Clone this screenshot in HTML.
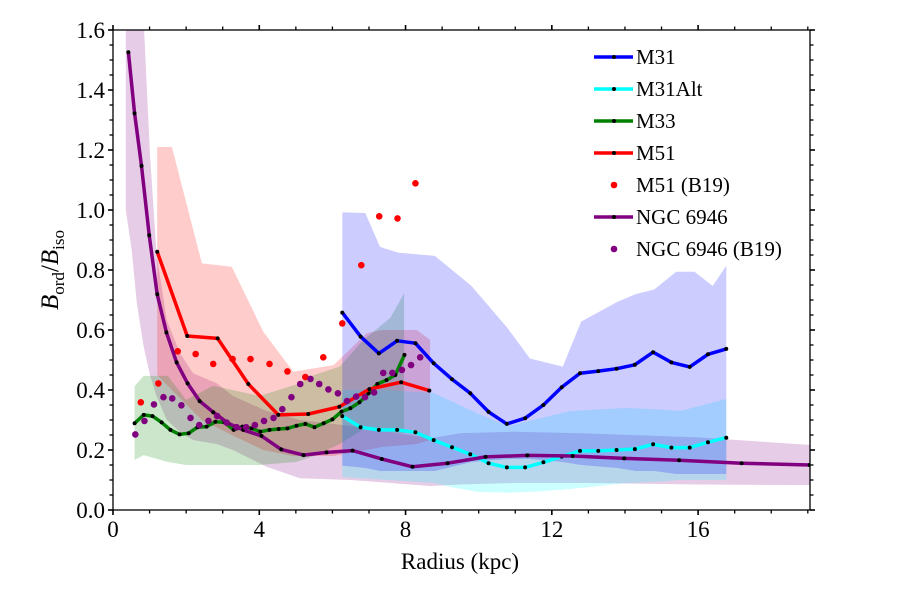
<!DOCTYPE html>
<html><head><meta charset="utf-8"><style>
html,body{margin:0;padding:0;background:#fff;}
svg{display:block;}
text{font-family:"Liberation Serif","DejaVu Serif",serif;}
</style></head><body>
<svg id="chart" width="900" height="600" viewBox="0 0 900 600" font-family="Liberation Serif, serif">
<rect width="900" height="600" fill="#fff"/>
<g id="bands"></g>
<g id="series"></g>
<g id="axes"></g>
<g id="legend"></g>
<text x="460" y="569" font-size="23" text-anchor="middle" font-family="Liberation Serif, serif">Radius (kpc)</text>
<text transform="translate(58,270) rotate(-90)" font-size="25" text-anchor="middle" font-family="Liberation Serif, serif"><tspan font-style="italic">B</tspan><tspan font-size="17" dy="6">ord</tspan><tspan dy="-6">/</tspan><tspan font-style="italic">B</tspan><tspan font-size="17" dy="6">iso</tspan></text>
</svg>
<script>
// ---- data ----
const m31X = [6.27,6.77,7.27,7.77,8.27,8.77,9.27,9.77,10.27,10.77,11.27,11.77,12.27,12.77,13.27,13.77,14.27,14.77,15.27,15.77,16.27,16.77];
const m31Y = [0.658,0.578,0.522,0.564,0.556,0.489,0.436,0.389,0.327,0.287,0.306,0.350,0.409,0.456,0.463,0.471,0.484,0.526,0.492,0.477,0.519,0.537];
const m31AltY = [0.313,0.276,0.267,0.267,0.259,0.233,0.209,0.186,0.156,0.142,0.142,0.159,0.178,0.197,0.197,0.200,0.203,0.219,0.208,0.208,0.226,0.241];
const m33X = [0.59,0.84,1.08,1.33,1.57,1.82,2.07,2.31,2.56,2.80,3.05,3.30,3.54,3.79,4.03,4.28,4.53,4.77,5.02,5.26,5.51,5.76,6.00,6.25,6.49,6.74,6.99,7.23,7.48,7.72,7.97];
const m33Y = [0.289,0.317,0.313,0.292,0.267,0.252,0.256,0.276,0.278,0.294,0.292,0.267,0.278,0.272,0.261,0.267,0.270,0.272,0.281,0.287,0.276,0.289,0.302,0.328,0.339,0.359,0.389,0.420,0.433,0.450,0.517];
const m51X = [1.21,2.03,2.86,3.70,4.52,5.34,6.19,7.01,7.88,8.65];
const m51Y = [0.861,0.580,0.572,0.420,0.317,0.320,0.344,0.403,0.426,0.398];
const m51bX = [0.76,1.24,1.77,2.26,2.74,3.27,3.76,4.28,4.77,5.26,5.75,6.27,6.79,7.28,7.78,8.27];
const m51bY = [0.359,0.422,0.529,0.520,0.487,0.503,0.503,0.487,0.462,0.443,0.509,0.622,0.816,0.979,0.972,1.089];
const ngcX = [0.42,0.59,0.78,0.99,1.21,1.46,1.74,2.04,2.37,2.74,3.15,3.56,4.06,4.60,5.21,5.84,6.55,7.35,8.19,9.15,10.19,11.33,12.57,13.98,15.48,17.19,19.05];
const ngcY = [1.526,1.322,1.147,0.916,0.719,0.592,0.492,0.422,0.363,0.326,0.289,0.267,0.247,0.202,0.183,0.192,0.198,0.170,0.144,0.156,0.177,0.182,0.180,0.172,0.166,0.156,0.150];
const ngcbX = [0.61,0.86,1.12,1.38,1.62,1.87,2.12,2.36,2.61,2.85,3.11,3.38,3.64,3.88,4.13,4.39,4.63,4.88,5.12,5.40,5.64,5.89,6.15,6.40,6.65,6.89,7.14,7.39,7.64,7.90,8.15,8.40];
const ngcbY = [0.252,0.297,0.352,0.376,0.372,0.349,0.307,0.283,0.297,0.313,0.291,0.276,0.276,0.283,0.297,0.307,0.336,0.376,0.420,0.437,0.420,0.402,0.389,0.363,0.378,0.376,0.392,0.457,0.457,0.467,0.483,0.509];
// bands
const m31BandX = [6.27,6.9,7.3,7.8,8.8,9.8,10.8,11.4,12.3,12.8,13.8,14.3,14.8,15.4,15.9,16.4,16.77];
const m31BandHi = [0.992,0.99,0.877,0.858,0.847,0.747,0.605,0.505,0.478,0.628,0.694,0.72,0.735,0.794,0.794,0.747,0.814];
const m31BandLo = [0.148,0.14,0.13,0.13,0.13,0.16,0.17,0.17,0.16,0.15,0.14,0.13,0.13,0.12,0.12,0.12,0.12];
const m31AltBandX = [6.27,7.5,8.77,9.3,10.0,10.8,11.5,12.5,14.0,15.0,15.5,16.77];
const m31AltBandHi = [0.40,0.40,0.39,0.36,0.32,0.28,0.30,0.33,0.34,0.335,0.33,0.37];
const m31AltBandLo = [0.11,0.10,0.09,0.075,0.06,0.058,0.061,0.07,0.089,0.095,0.1,0.1];
const m33BandX = [0.59,0.84,1.5,2.0,2.74,4.0,5.0,5.5,6.2,6.85,7.58,7.96];
const m33BandHi = [0.413,0.447,0.447,0.367,0.414,0.38,0.418,0.45,0.478,0.567,0.64,0.722];
const m33BandLo = [0.167,0.183,0.16,0.15,0.15,0.15,0.16,0.18,0.22,0.27,0.26,0.256];
const m51BandX = [1.21,1.61,2.43,3.25,4.11,4.93,6.03,6.94,7.35,8.31,8.67];
const m51BandHi = [1.21,1.21,0.822,0.811,0.594,0.461,0.483,0.589,0.6,0.6,0.567];
const m51BandLo = [0.45,0.40,0.30,0.25,0.20,0.18,0.18,0.20,0.21,0.22,0.233];
const ngcBandX = [0.35,0.51,0.65,0.83,1.01,1.19,1.47,1.83,2.19,2.83,3.28,4.2,5.11,6.5,8.67,9.5,11,13,16,19.05];
const ngcBandHi = [1.65,1.65,1.65,1.65,1.19,0.856,0.633,0.523,0.456,0.423,0.38,0.33,0.30,0.28,0.239,0.256,0.261,0.255,0.242,0.217];
const ngcBandLo = [1.0,0.867,0.69,0.55,0.45,0.38,0.30,0.26,0.233,0.22,0.20,0.144,0.106,0.10,0.08,0.085,0.09,0.09,0.085,0.083];
const xTicks = [0,4,8,12,16];
const yTicks = [0.0,0.2,0.4,0.6,0.8,1.0,1.2,1.4,1.6];

// ---- scales ----
const L=113,R=810,T=30,B=510, XMAX=19.06, YMAX=1.6;
const sx = v => L + v/XMAX*(R-L);
const sy = v => B - v/YMAX*(B-T);
const NS='http://www.w3.org/2000/svg';
function mk(tag, parent){const e=document.createElementNS(NS,tag);parent.appendChild(e);return e;}

const clip = mk('clipPath', document.getElementById('chart'));
clip.setAttribute('id','pc');
const cr = mk('rect', clip); cr.setAttribute('x',L);cr.setAttribute('y',T);cr.setAttribute('width',R-L);cr.setAttribute('height',B-T);

const bandsG=document.getElementById('bands'); bandsG.setAttribute('clip-path','url(#pc)');
function band(xs,hi,lo,color,name){
  const p=mk('path',bandsG);
  let d=xs.map((x,i)=>(i?'L':'M')+sx(x).toFixed(1)+','+sy(hi[i]).toFixed(1)).join('');
  for(let i=xs.length-1;i>=0;i--) d+='L'+sx(xs[i]).toFixed(1)+','+sy(lo[i]).toFixed(1);
  p.setAttribute('d',d+'Z'); p.setAttribute('fill',color); p.setAttribute('fill-opacity','0.2');
  
  
}
band(ngcBandX,ngcBandHi,ngcBandLo,'#800080','ngc6946-band');
band(m51BandX,m51BandHi,m51BandLo,'#ff0000','m51-band');
band(m33BandX,m33BandHi,m33BandLo,'#008000','m33-band');
band(m31AltBandX,m31AltBandHi,m31AltBandLo,'#00ffff','m31alt-band');
band(m31BandX,m31BandHi,m31BandLo,'#0000ff','m31-band');

const serG=document.getElementById('series'); serG.setAttribute('clip-path','url(#pc)');
function line(xs,ys,color,name){
  const g=mk('g',serG);
  
  
  const p=mk('polyline',g);
  p.setAttribute('points',xs.map((x,i)=>sx(x).toFixed(1)+','+sy(ys[i]).toFixed(1)).join(' '));
  p.setAttribute('fill','none');p.setAttribute('stroke',color);p.setAttribute('stroke-width','3.5');p.setAttribute('stroke-linejoin','round');
  xs.forEach((x,i)=>{const c=mk('circle',g);c.setAttribute('cx',sx(x));c.setAttribute('cy',sy(ys[i]));c.setAttribute('r','2');c.setAttribute('fill','#000');
    
    });
}
function dots(xs,ys,color,name){
  const g=mk('g',serG);
  
  
  xs.forEach((x,i)=>{const c=mk('circle',g);c.setAttribute('cx',sx(x));c.setAttribute('cy',sy(ys[i]));c.setAttribute('r','3.3');c.setAttribute('fill',color);
    
    });
}
line(m31X,m31Y,'#0000ff','m31-line');
line(m31X,m31AltY,'#00ffff','m31alt-line');
line(m33X,m33Y,'#008000','m33-line');
line(m51X,m51Y,'#ff0000','m51-line');
dots(m51bX,m51bY,'#ff0000','m51-b19-dots');
line(ngcX,ngcY,'#800080','ngc6946-line');
dots(ngcbX,ngcbY,'#800080','ngc6946-b19-dots');

// axes
const ax=document.getElementById('axes');
const fr=mk('rect',ax);fr.setAttribute('x',L);fr.setAttribute('y',T);fr.setAttribute('width',R-L);fr.setAttribute('height',B-T);
fr.setAttribute('fill','none');fr.setAttribute('stroke','#000');fr.setAttribute('stroke-width','1.3');
function tk(x1,y1,x2,y2,w){const l=mk('line',ax);l.setAttribute('x1',x1);l.setAttribute('y1',y1);l.setAttribute('x2',x2);l.setAttribute('y2',y2);l.setAttribute('stroke','#000');l.setAttribute('stroke-width',w);}
for(let v=0;v<=19;v++){const X=sx(v);const maj=v%4===0;const len=maj?5:3.5;tk(X,B,X,B+len,maj?1.6:1.3);tk(X,T,X,T-len,maj?1.6:1.3);}
for(let k=0;k<=32;k++){const Y=sy(k*0.05);const maj=k%4===0;const len=maj?5:3.5;tk(L,Y,L-len,Y,maj?1.6:1.3);tk(R,Y,R+len,Y,maj?1.6:1.3);}
xTicks.forEach(v=>{const t=mk('text',ax);t.setAttribute('x',sx(v));t.setAttribute('y',B+27);t.setAttribute('font-size','23');t.setAttribute('font-family','Liberation Serif, serif');t.setAttribute('text-anchor','middle');t.textContent=v;
  
  });
yTicks.forEach(v=>{const t=mk('text',ax);t.setAttribute('x',L-8);t.setAttribute('y',sy(v)+8);t.setAttribute('font-size','23');t.setAttribute('font-family','Liberation Serif, serif');t.setAttribute('text-anchor','end');t.textContent=v.toFixed(1);
  
  });

// legend
const lg=document.getElementById('legend');
const legNames=['M31','M31Alt','M33','M51','M51 (B19)','NGC 6946','NGC 6946 (B19)'];
const legColors=['#0000ff','#00ffff','#008000','#ff0000','#ff0000','#800080','#800080'];
const legIsLine=[true,true,true,true,false,true,false];
legNames.forEach((n,i)=>{
  const y=57+i*32;
  const g=mk('g',lg);
  
  
  if(legIsLine[i]){const l=mk('line',g);l.setAttribute('x1',594);l.setAttribute('x2',633);l.setAttribute('y1',y);l.setAttribute('y2',y);l.setAttribute('stroke',legColors[i]);l.setAttribute('stroke-width','3.5');
    const c=mk('circle',g);c.setAttribute('cx',614);c.setAttribute('cy',y);c.setAttribute('r','2');c.setAttribute('fill','#000');}
  else {const c=mk('circle',g);c.setAttribute('cx',614);c.setAttribute('cy',y);c.setAttribute('r','3.3');c.setAttribute('fill',legColors[i]);}
  const t=mk('text',g);t.setAttribute('x',636);t.setAttribute('y',y+7);t.setAttribute('font-size','21');t.setAttribute('font-family','Liberation Serif, serif');t.textContent=n;
});
</script>
</body></html>
